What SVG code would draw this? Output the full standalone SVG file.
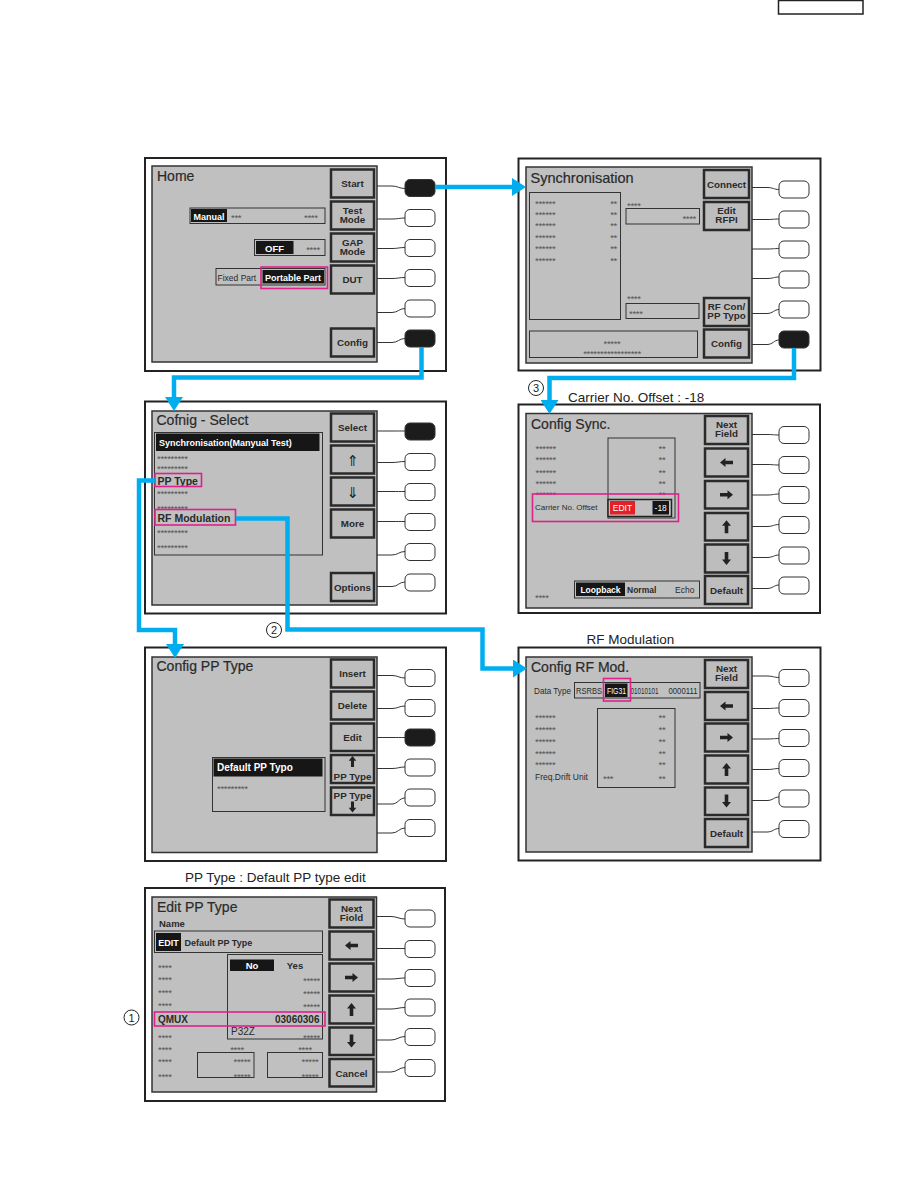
<svg xmlns="http://www.w3.org/2000/svg" width="918" height="1188" viewBox="0 0 918 1188">
<style>
.frame{fill:#fff;stroke:#222;stroke-width:2}
.screen{fill:#c0c0c0;stroke:#333;stroke-width:1.5}
.btn{fill:#bdbdbd;stroke:#2a2a2a;stroke-width:2.5}
.key{fill:#fff;stroke:#333;stroke-width:1}
.on{fill:#1c1c1c}
.lead{fill:none;stroke:#333;stroke-width:1}
.box{fill:none;stroke:#333;stroke-width:1}
.blk{fill:#161616}
.hl{fill:none;stroke:#e0208c;stroke-width:1.6}
.flow{fill:none;stroke:#00aeef;stroke-width:4.5;stroke-linejoin:miter}
text{font-family:'Liberation Sans',Arial,sans-serif;fill:#2a2a2a}
.title{font-size:14px;stroke:#2a2a2a;stroke-width:0.2}
.bl{font-size:9.8px;font-weight:bold;text-anchor:middle}
.s8{font-size:8.5px}
.b9{font-size:9px;font-weight:bold}
.w{fill:#fff}
.st{font-size:9.5px;fill:#555;letter-spacing:-0.3px}
.cap{font-size:13.5px;fill:#222}
.num{font-size:11px;text-anchor:middle;fill:#222}
.ico{fill:#222}
</style>
<defs>
<marker id="ah" markerUnits="userSpaceOnUse" markerWidth="14" markerHeight="18" refX="0" refY="9" orient="auto"><path d="M0,0 L14,9 L0,18 Z" fill="#00aeef"/></marker>
<polygon id="arL" points="-6.5,0 -1,-4.5 -1,-1.8 6.5,-1.8 6.5,1.8 -1,1.8 -1,4.5"/>
</defs>

<rect x="778.5" y="0.5" width="84.5" height="13.5" fill="none" stroke="#222" stroke-width="1.5"/>

<!-- Panel 1: Home -->
<g id="home">
<rect class="frame" x="145" y="158" width="301" height="213"/>
<rect class="screen" x="152" y="166" width="225" height="196"/>
<text class="title" x="157" y="181">Home</text>
<rect class="box" x="190" y="208" width="135" height="15.5"/>
<rect class="blk" x="191" y="209" width="36" height="13"/>
<text class="b9 w" x="209" y="219.5" text-anchor="middle">Manual</text>
<text class="st" x="231" y="221">***</text>
<text class="st" x="304" y="221">****</text>
<rect class="box" x="254.5" y="239.5" width="70.5" height="16"/>
<rect class="blk" x="256" y="241" width="37.5" height="13"/>
<text class="b9 w" x="274.5" y="251.5" text-anchor="middle" style="font-size:9.5px">OFF</text>
<text class="st" x="313" y="253" text-anchor="middle">****</text>
<rect class="box" x="216" y="268.5" width="109" height="16.5"/>
<text class="s8" x="217.5" y="280.5">Fixed Part</text>
<rect class="blk" x="262.5" y="270" width="61.5" height="13.5"/>
<text class="b9 w" x="293" y="280.5" text-anchor="middle">Portable Part</text>
<rect class="hl" x="261" y="267" width="66.5" height="21.5"/>
<rect class="btn" x="331" y="169.5" width="43" height="28"/>
<text class="bl" x="352.5" y="187">Start</text>
<rect class="btn" x="331" y="201.5" width="43" height="28"/>
<text class="bl" x="352.5" y="213.5">Test</text><text class="bl" x="352.5" y="222.5">Mode</text>
<rect class="btn" x="331" y="233.5" width="43" height="28"/>
<text class="bl" x="352.5" y="245.5">GAP</text><text class="bl" x="352.5" y="254.5">Mode</text>
<rect class="btn" x="331" y="265.5" width="43" height="28"/>
<text class="bl" x="352.5" y="283">DUT</text>
<rect class="btn" x="331" y="328.5" width="43" height="28"/>
<text class="bl" x="352.5" y="346">Config</text>
<path class="lead" d="M377,186 H392 C398,186 399,188.5 405,188.5 M377,219 H392 C398,219 399,218 405,218 M377,248.5 H392 C398,248.5 399,247.5 405,247.5 M377,278.5 H392 C398,278.5 399,277.5 405,277.5 M377,312.5 H392 C398,312.5 399,308.5 405,308.5 M377,342.5 H392 C398,342.5 399,338.5 405,338.5"/>
<rect class="key on" x="405" y="179.5" width="30" height="17" rx="5"/>
<rect class="key" x="405" y="209.5" width="30" height="17" rx="5"/>
<rect class="key" x="405" y="239.5" width="30" height="17" rx="5"/>
<rect class="key" x="405" y="269.5" width="30" height="17" rx="5"/>
<rect class="key" x="405" y="300" width="30" height="17" rx="5"/>
<rect class="key on" x="405" y="330" width="30" height="17" rx="5"/>
</g>

<!-- Panel 2: Synchronisation -->
<g id="synchronisation">
<rect class="frame" x="518.5" y="158.5" width="302" height="212"/>
<rect class="screen" x="526" y="167" width="226" height="196"/>
<text class="title" x="530.5" y="182.5" style="font-size:14.5px">Synchronisation</text>
<rect class="box" x="529.5" y="192.5" width="91" height="127"/>
<text class="st" x="535" y="207">******</text><text class="st" x="617" y="207" text-anchor="end">**</text>
<text class="st" x="535" y="218">******</text><text class="st" x="617" y="218" text-anchor="end">**</text>
<text class="st" x="535" y="229">******</text><text class="st" x="617" y="229" text-anchor="end">**</text>
<text class="st" x="535" y="240.5">******</text><text class="st" x="617" y="240.5" text-anchor="end">**</text>
<text class="st" x="535" y="252">******</text><text class="st" x="617" y="252" text-anchor="end">**</text>
<text class="st" x="535" y="264">******</text><text class="st" x="617" y="264" text-anchor="end">**</text>
<text class="st" x="627" y="208.5">****</text>
<rect class="box" x="626" y="208.5" width="73.5" height="15.5"/>
<text class="st" x="696" y="221.5" text-anchor="end">****</text>
<text class="st" x="627" y="302">****</text>
<rect class="box" x="626" y="303.5" width="73" height="15"/>
<text class="st" x="629" y="316.5">****</text>
<rect class="box" x="529.5" y="331" width="168" height="26.5"/>
<text class="st" x="612" y="346.5" text-anchor="middle">*****</text>
<text class="st" x="612" y="357" text-anchor="middle">*****************</text>
<rect class="btn" x="704" y="170" width="45" height="28"/>
<text class="bl" x="726.5" y="187.5">Connect</text>
<rect class="btn" x="704" y="202" width="45" height="28"/>
<text class="bl" x="726.5" y="214">Edit</text><text class="bl" x="726.5" y="223">RFPI</text>
<rect class="btn" x="704" y="298" width="45" height="28"/>
<text class="bl" x="726.5" y="310">RF Con/</text><text class="bl" x="726.5" y="319">PP Typo</text>
<rect class="btn" x="704" y="329.5" width="45" height="28"/>
<text class="bl" x="726.5" y="347">Config</text>
<path class="lead" d="M752,187.5 H767 C773,187.5 774,189.5 779,189.5 M752,219.5 H767 C773,219.5 774,219 779,219 M752,249 H767 C773,249 774,248.5 779,248.5 M752,278.5 H767 C773,278.5 774,277 779,277 M752,313.5 H767 C773,313.5 774,309.5 779,309.5 M752,344.5 H767 C773,344.5 774,340 779,340"/>
<rect class="key" x="779" y="181" width="30" height="17" rx="5"/>
<rect class="key" x="779" y="211" width="30" height="17" rx="5"/>
<rect class="key" x="779" y="241" width="30" height="17" rx="5"/>
<rect class="key" x="779" y="271" width="30" height="17" rx="5"/>
<rect class="key" x="779" y="301" width="30" height="17" rx="5"/>
<rect class="key on" x="779" y="331" width="30" height="17" rx="5"/>
</g>

<!-- Panel 3: Config Select -->
<g id="config-select">
<rect class="frame" x="145" y="401.5" width="301" height="212"/>
<rect class="screen" x="152" y="411" width="225" height="194"/>
<text class="title" x="156.5" y="424.5">Cofnig - Select</text>
<rect class="box" x="154.5" y="432.5" width="168" height="122.5"/>
<rect class="blk" x="156" y="433.5" width="163.5" height="17.5"/>
<text class="b9 w" x="159" y="446">Synchronisation(Manyual Test)</text>
<text class="st" x="157" y="461.5">*********</text>
<text class="st" x="157" y="472">*********</text>
<text style="font-size:10.5px;font-weight:bold" x="157.5" y="484.5">PP Type</text>
<rect class="hl" x="155" y="473.5" width="46.5" height="13"/>
<text class="st" x="157" y="497">*********</text>
<text class="st" x="157" y="511.5">*********</text>
<text style="font-size:10.5px;font-weight:bold" x="157.5" y="521.5">RF Modulation</text>
<rect class="hl" x="155" y="509.5" width="80.5" height="15.5"/>
<text class="st" x="157" y="535.5">*********</text>
<text class="st" x="157" y="550.5">*********</text>
<rect class="btn" x="331" y="413.5" width="43" height="28"/>
<text class="bl" x="352.5" y="431">Select</text>
<rect class="btn" x="331" y="445.5" width="43" height="28"/>
<text x="352.5" y="466" text-anchor="middle" style="font-family:'DejaVu Sans',sans-serif;font-size:15px;fill:#222">⇑</text>
<rect class="btn" x="331" y="477.5" width="43" height="28"/>
<text x="352.5" y="498" text-anchor="middle" style="font-family:'DejaVu Sans',sans-serif;font-size:15px;fill:#222">⇓</text>
<rect class="btn" x="331" y="509.5" width="43" height="28"/>
<text class="bl" x="352.5" y="527">More</text>
<rect class="btn" x="331" y="573" width="43" height="28"/>
<text class="bl" x="352.5" y="590.5">Options</text>
<path class="lead" d="M377,431 H392 C398,431 399,431 405,431 M377,462.5 H392 C398,462.5 399,461.5 405,461.5 M377,491.5 H392 C398,491.5 399,491.5 405,491.5 M377,521.5 H392 C398,521.5 399,521.5 405,521.5 M377,555 H392 C398,555 399,551.5 405,551.5 M377,586.5 H392 C398,586.5 399,582 405,582"/>
<rect class="key on" x="405" y="423" width="30" height="17" rx="5"/>
<rect class="key" x="405" y="453.5" width="30" height="17" rx="5"/>
<rect class="key" x="405" y="483.5" width="30" height="17" rx="5"/>
<rect class="key" x="405" y="513.5" width="30" height="17" rx="5"/>
<rect class="key" x="405" y="543.5" width="30" height="17" rx="5"/>
<rect class="key" x="405" y="574" width="30" height="17" rx="5"/>
</g>

<!-- Panel 4: Config Sync -->
<g id="config-sync">
<rect class="frame" x="518.5" y="404.5" width="301.5" height="208.5"/>
<rect class="screen" x="526" y="413.5" width="226" height="194.5"/>
<text class="title" x="531" y="428.5">Config Sync.</text>
<rect class="box" x="608" y="438" width="67" height="80"/>
<text class="st" x="535.5" y="451.5">******</text><text class="st" x="662" y="451.5" text-anchor="middle">**</text>
<text class="st" x="535.5" y="463">******</text><text class="st" x="662" y="463" text-anchor="middle">**</text>
<text class="st" x="535.5" y="475.5">******</text><text class="st" x="662" y="475.5" text-anchor="middle">**</text>
<text class="st" x="535.5" y="487">******</text><text class="st" x="662" y="487" text-anchor="middle">**</text>
<text class="st" x="535.5" y="497.5">******</text><text class="st" x="662" y="497.5" text-anchor="middle">**</text>
<text class="s8" x="535" y="509.5" style="font-size:8px">Carrier No. Offset</text>
<rect x="608" y="499.5" width="63.5" height="17" fill="#c0c0c0" stroke="#222" stroke-width="1.5"/>
<rect x="610" y="501" width="25" height="13.5" fill="#e32028"/>
<text class="s8 w" x="622.5" y="511" text-anchor="middle">EDIT</text>
<rect class="blk" x="652.5" y="501" width="16.5" height="13.5"/>
<text class="s8 w" x="660.7" y="511" text-anchor="middle">-18</text>
<rect class="hl" x="532.5" y="494" width="146" height="27.5"/>
<text class="st" x="535" y="600.5">****</text>
<rect class="box" x="574.5" y="581" width="125" height="17"/>
<rect class="blk" x="576" y="582.5" width="49" height="13.5"/>
<text class="s8 w" x="600.5" y="592.5" text-anchor="middle" style="font-weight:bold">Loopback</text>
<text class="s8" x="627" y="592.5" style="font-weight:bold">Normal</text>
<text class="s8" x="675" y="592.5">Echo</text>
<rect class="btn" x="705" y="416" width="43" height="28"/>
<text class="bl" x="726.5" y="428">Next</text><text class="bl" x="726.5" y="437">Field</text>
<rect class="btn" x="705" y="448.5" width="43" height="28"/>
<use href="#arL" class="ico" transform="translate(726.5,462.5)"/>
<rect class="btn" x="705" y="481" width="43" height="27.5"/>
<use href="#arL" class="ico" transform="translate(726.5,494.7) rotate(180)"/>
<rect class="btn" x="705" y="513" width="43" height="27.5"/>
<use href="#arL" class="ico" transform="translate(726.5,526.7) rotate(90)"/>
<rect class="btn" x="705" y="544.5" width="43" height="28"/>
<use href="#arL" class="ico" transform="translate(726.5,558.5) rotate(-90)"/>
<rect class="btn" x="705" y="576" width="43" height="28"/>
<text class="bl" x="726.5" y="593.5">Default</text>
<path class="lead" d="M752,434.5 H767 C773,434.5 774,435 779,435 M752,464.5 H767 C773,464.5 774,465 779,465 M752,495 H767 C773,495 774,494 779,494 M752,526.5 H767 C773,526.5 774,524.5 779,524.5 M752,557.5 H767 C773,557.5 774,555 779,555 M752,588.5 H767 C773,588.5 774,585 779,585"/>
<rect class="key" x="779" y="426.5" width="30" height="17" rx="5"/>
<rect class="key" x="779" y="456.5" width="30" height="17" rx="5"/>
<rect class="key" x="779" y="486.5" width="30" height="17" rx="5"/>
<rect class="key" x="779" y="516.5" width="30" height="17" rx="5"/>
<rect class="key" x="779" y="547" width="30" height="17" rx="5"/>
<rect class="key" x="779" y="577" width="30" height="17" rx="5"/>
</g>

<!-- Panel 5: Config PP Type -->
<g id="config-pp-type">
<rect class="frame" x="145" y="647.5" width="301" height="213.5"/>
<rect class="screen" x="152" y="657" width="225" height="195.5"/>
<text class="title" x="156.5" y="670.5">Config PP Type</text>
<rect class="box" x="212.5" y="757.5" width="112.5" height="54"/>
<rect class="blk" x="213.5" y="758.5" width="109" height="18"/>
<text class="w" x="217" y="771" style="font-size:10px;font-weight:bold">Default PP Typo</text>
<text class="st" x="217" y="792">*********</text>
<rect class="btn" x="331" y="659.5" width="43" height="28"/>
<text class="bl" x="352.5" y="677">Insert</text>
<rect class="btn" x="331" y="691.5" width="43" height="28"/>
<text class="bl" x="352.5" y="709">Delete</text>
<rect class="btn" x="331" y="723.5" width="43" height="27.5"/>
<text class="bl" x="352.5" y="741">Edit</text>
<rect class="btn" x="331" y="755" width="43" height="28"/>
<use href="#arL" class="ico" transform="translate(352.5,761.5) rotate(90) scale(0.85)"/>
<text class="bl" x="352.5" y="779.5">PP Type</text>
<rect class="btn" x="331" y="787.5" width="43" height="27.5"/>
<text class="bl" x="352.5" y="798.5">PP Type</text>
<use href="#arL" class="ico" transform="translate(352.5,807) rotate(-90) scale(0.85)"/>
<path class="lead" d="M377,675.5 H392 C398,675.5 399,678 405,678 M377,708.5 H392 C398,708.5 399,706 405,706 M377,737.5 H392 C398,737.5 399,737.5 405,737.5 M377,768.5 H392 C398,768.5 399,767 405,767 M377,804 H392 C398,804 399,798 405,798 M377,833 H392 C398,833 399,828 405,828"/>
<rect class="key" x="405" y="669.5" width="30" height="17" rx="5"/>
<rect class="key" x="405" y="699.5" width="30" height="17" rx="5"/>
<rect class="key on" x="405" y="729" width="30" height="17" rx="5"/>
<rect class="key" x="405" y="759" width="30" height="17" rx="5"/>
<rect class="key" x="405" y="789" width="30" height="17" rx="5"/>
<rect class="key" x="405" y="819.5" width="30" height="17" rx="5"/>
</g>

<!-- Panel 6: Config RF Mod -->
<g id="config-rf-mod">
<rect class="frame" x="518.5" y="647.5" width="302" height="213"/>
<rect class="screen" x="526" y="657" width="226" height="195"/>
<text class="title" x="531" y="672">Config RF Mod.</text>
<text class="s8" x="534" y="693.5" textLength="37" lengthAdjust="spacingAndGlyphs">Data Type</text>
<rect class="box" x="574.5" y="682.5" width="125.5" height="15.5"/>
<text class="s8" x="576" y="693.5" textLength="26" lengthAdjust="spacingAndGlyphs">RSRBS</text>
<rect class="blk" x="605" y="683.5" width="22.5" height="13.5"/>
<text class="s8 w" x="607" y="693.5" textLength="19" lengthAdjust="spacingAndGlyphs">FIG31</text>
<text class="s8" x="630.5" y="693.5" textLength="28" lengthAdjust="spacingAndGlyphs">01010101</text>
<text class="s8" x="668.5" y="693.5" textLength="29" lengthAdjust="spacingAndGlyphs">0000111</text>
<rect class="hl" x="603.5" y="678.5" width="27" height="22.5"/>
<rect class="box" x="597.5" y="708.5" width="77.5" height="79"/>
<text class="st" x="535" y="721">******</text><text class="st" x="662" y="721" text-anchor="middle">**</text>
<text class="st" x="535" y="733">******</text><text class="st" x="662" y="733" text-anchor="middle">**</text>
<text class="st" x="535" y="744.5">******</text><text class="st" x="662" y="744.5" text-anchor="middle">**</text>
<text class="st" x="535" y="756.5">******</text><text class="st" x="662" y="756.5" text-anchor="middle">**</text>
<text class="st" x="535" y="768">******</text><text class="st" x="662" y="768" text-anchor="middle">**</text>
<text class="s8" x="535" y="779.5">Freq.Drift Unit</text>
<text class="st" x="603" y="781.5">***</text><text class="st" x="662" y="781.5" text-anchor="middle">**</text>
<rect class="btn" x="705" y="660" width="43" height="28"/>
<text class="bl" x="726.5" y="672">Next</text><text class="bl" x="726.5" y="681">Field</text>
<rect class="btn" x="705" y="692" width="43" height="28"/>
<use href="#arL" class="ico" transform="translate(726.5,706)"/>
<rect class="btn" x="705" y="723.5" width="43" height="28"/>
<use href="#arL" class="ico" transform="translate(726.5,737.5) rotate(180)"/>
<rect class="btn" x="705" y="755.5" width="43" height="28"/>
<use href="#arL" class="ico" transform="translate(726.5,769.5) rotate(90)"/>
<rect class="btn" x="705" y="787.5" width="43" height="27.5"/>
<use href="#arL" class="ico" transform="translate(726.5,801) rotate(-90)"/>
<rect class="btn" x="705" y="819" width="43" height="28"/>
<text class="bl" x="726.5" y="836.5">Default</text>
<path class="lead" d="M752,676 H767 C773,676 774,677.5 779,677.5 M752,708.5 H767 C773,708.5 774,708 779,708 M752,739 H767 C773,739 774,738.5 779,738.5 M752,769.5 H767 C773,769.5 774,768.5 779,768.5 M752,800.5 H767 C773,800.5 774,797 779,797 M752,832 H767 C773,832 774,828.5 779,828.5"/>
<rect class="key" x="779" y="669.5" width="30" height="17" rx="5"/>
<rect class="key" x="779" y="699.5" width="30" height="17" rx="5"/>
<rect class="key" x="779" y="729.5" width="30" height="17" rx="5"/>
<rect class="key" x="779" y="759.5" width="30" height="17" rx="5"/>
<rect class="key" x="779" y="790" width="30" height="17" rx="5"/>
<rect class="key" x="779" y="820.5" width="30" height="17" rx="5"/>
</g>

<!-- Panel 7: Edit PP Type -->
<g id="edit-pp-type">
<rect class="frame" x="145" y="888" width="300" height="213"/>
<rect class="screen" x="152" y="897" width="224.5" height="195"/>
<text class="title" x="157" y="912">Edit PP Type</text>
<text class="b9" x="159" y="927" style="font-size:9.5px">Name</text>
<rect class="box" x="154.5" y="931" width="168" height="21.5"/>
<rect class="blk" x="156" y="933" width="25" height="18"/>
<text class="b9 w" x="168.5" y="945.5" text-anchor="middle">EDIT</text>
<text class="b9" x="184.5" y="945.5">Default PP Type</text>
<rect class="box" x="227.5" y="954.5" width="95" height="84.5"/>
<rect class="blk" x="230" y="959.5" width="44" height="11.5"/>
<text class="b9 w" x="252" y="968.5" text-anchor="middle" style="font-size:9.5px">No</text>
<text class="b9" x="295" y="968.5" text-anchor="middle" style="font-size:9.5px">Yes</text>
<text class="st" x="158" y="970.5">****</text>
<text class="st" x="158" y="983">****</text><text class="st" x="320" y="983.5" text-anchor="end">*****</text>
<text class="st" x="158" y="996">****</text><text class="st" x="320" y="996.5" text-anchor="end">*****</text>
<text class="st" x="158" y="1009">****</text><text class="st" x="320" y="1009.5" text-anchor="end">*****</text>
<text x="158" y="1022.5" style="font-size:10px;font-weight:bold">QMUX</text>
<text x="319.5" y="1022.5" text-anchor="end" style="font-size:10px;font-weight:bold">03060306</text>
<rect class="hl" x="154.5" y="1012" width="170.5" height="14"/>
<text x="231" y="1035" style="font-size:10px">P32Z</text>
<text class="st" x="158" y="1040.5">****</text><text class="st" x="320" y="1041" text-anchor="end">*****</text>
<text class="st" x="158" y="1053">****</text>
<text class="st" x="237" y="1053" text-anchor="middle">****</text>
<text class="st" x="305" y="1053" text-anchor="middle">****</text>
<rect class="box" x="197.5" y="1052.5" width="56.5" height="25"/>
<rect class="box" x="267.5" y="1052.5" width="55" height="25"/>
<text class="st" x="158" y="1065">****</text>
<text class="st" x="242" y="1065" text-anchor="middle">*****</text>
<text class="st" x="310" y="1065" text-anchor="middle">*****</text>
<text class="st" x="158" y="1080">****</text>
<text class="st" x="242" y="1080" text-anchor="middle">*****</text>
<text class="st" x="310" y="1080" text-anchor="middle">*****</text>
<rect class="btn" x="329.5" y="899.5" width="44" height="28"/>
<text class="bl" x="351.5" y="911.5">Next</text><text class="bl" x="351.5" y="920.5">Fiold</text>
<rect class="btn" x="329.5" y="931.5" width="44" height="28"/>
<use href="#arL" class="ico" transform="translate(351.5,945.5)"/>
<rect class="btn" x="329.5" y="963.5" width="44" height="28"/>
<use href="#arL" class="ico" transform="translate(351.5,977.5) rotate(180)"/>
<rect class="btn" x="329.5" y="995.5" width="44" height="28"/>
<use href="#arL" class="ico" transform="translate(351.5,1009.5) rotate(90)"/>
<rect class="btn" x="329.5" y="1027.5" width="44" height="27.5"/>
<use href="#arL" class="ico" transform="translate(351.5,1041) rotate(-90)"/>
<rect class="btn" x="329.5" y="1059" width="44" height="27.5"/>
<text class="bl" x="351.5" y="1076.5">Cancel</text>
<path class="lead" d="M376.5,916.5 H391 C397,916.5 399,919 405,919 M376.5,948.5 H391 C397,948.5 399,948.5 405,948.5 M376.5,979 H391 C397,979 399,978 405,978 M376.5,1009 H391 C397,1009 399,1007.5 405,1007.5 M376.5,1040 H391 C397,1040 399,1036.5 405,1036.5 M376.5,1072 H391 C397,1072 399,1067.5 405,1067.5"/>
<rect class="key" x="405" y="910" width="30" height="17" rx="5"/>
<rect class="key" x="405" y="940.5" width="30" height="17" rx="5"/>
<rect class="key" x="405" y="969.5" width="30" height="17" rx="5"/>
<rect class="key" x="405" y="999" width="30" height="17" rx="5"/>
<rect class="key" x="405" y="1028.5" width="30" height="17" rx="5"/>
<rect class="key" x="405" y="1059.5" width="30" height="17" rx="5"/>
</g>

<!-- captions and step numbers -->
<g id="labels">
<circle cx="536" cy="388" r="7.5" fill="none" stroke="#222" stroke-width="1"/>
<text class="num" x="536" y="392">3</text>
<text class="cap" x="568" y="401.5">Carrier No. Offset : -18</text>
<text class="cap" x="586.5" y="643.5">RF Modulation</text>
<text class="cap" x="185" y="881.5">PP Type : Default PP type edit</text>
<circle cx="274" cy="630" r="7.5" fill="none" stroke="#222" stroke-width="1"/>
<text class="num" x="274" y="634">2</text>
<circle cx="131.5" cy="1017.5" r="7.5" fill="none" stroke="#222" stroke-width="1"/>
<text class="num" x="131.5" y="1021.5">1</text>
</g>

<!-- connectors -->
<g id="connectors">
<path class="flow" marker-end="url(#ah)" d="M435,187 H512"/>
<path class="flow" marker-end="url(#ah)" d="M421.5,347 V377.5 H174 V397"/>
<path class="flow" marker-end="url(#ah)" d="M794,348 V378 H549.5 V400"/>
<path class="flow" marker-end="url(#ah)" d="M155,480.5 H139 V630 H175 V644"/>
<path class="flow" marker-end="url(#ah)" d="M236,518.5 H287.5 V629.5 H482.5 V668.5 H513"/>
</g>
</svg>
